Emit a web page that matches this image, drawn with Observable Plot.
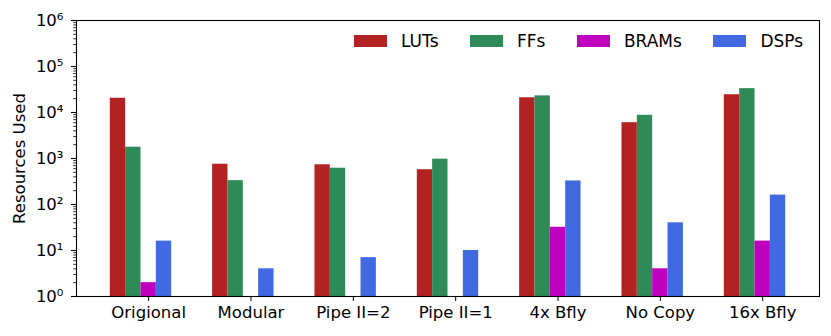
<!DOCTYPE html>
<html><head><meta charset="utf-8">
<script src="https://cdn.jsdelivr.net/npm/d3@7"></script>
<script src="https://cdn.jsdelivr.net/npm/@observablehq/plot@0.6"></script>
<style>
body{margin:0;background:#fff;}
#chart{position:relative;width:831px;height:336px;font-family:"DejaVu Sans",sans-serif;}
#legend{position:absolute;left:354px;top:34px;display:flex;align-items:center;font-size:17px;line-height:14px;color:#000;}
.item{display:flex;align-items:center;margin-right:31.5px}
.sw{width:33px;height:12px;margin-right:14px}
</style></head>
<body><div id="chart"></div>
<script>
const categories = ["Origional","Modular","Pipe II=2","Pipe II=1","4x Bfly","No Copy","16x Bfly"];
const seriesNames = ["LUTs","FFs","BRAMs","DSPs"];
const seriesColors = ["#b22222","#2e8b57","#bf00bf","#4169e1"];
const luts  = [20400, 750, 730, 570, 20900, 6000, 24300];
const ffs   = [1760, 330, 615, 965, 23000, 8700, 33000];
const brams = [2, 0, 0, 0, 32, 4, 16];
const dsps  = [16, 4, 7, 10, 325, 40, 160];
const yTickValues = [1, 10, 100, 1000, 10000, 100000, 1000000];

const seriesValues = [luts, ffs, brams, dsps];
const barW = 0.15;
const rows = [];
seriesValues.forEach((vals, k) => {
  vals.forEach((v, i) => {
    if (v > 0) {
      const c = i + (k - 2) * barW;
      rows.push({series: seriesNames[k], x1: c - barW / 2, x2: c + barW / 2, value: v});
    }
  });
});
const sup = "⁰¹²³⁴⁵⁶⁷⁸⁹";
const minor = [];
for (let e = 0; e < 6; e++) for (let m = 2; m <= 9; m++) minor.push(m * Math.pow(10, e));

const plot = Plot.plot({
  width: 831, height: 336,
  marginLeft: 76, marginRight: 12, marginTop: 20, marginBottom: 40,
  style: {fontFamily: "DejaVu Sans", fontSize: "16.5px", color: "black", background: "white", overflow: "visible"},
  x: {type: "linear", domain: [-0.705, 6.555]},
  y: {type: "log", domain: [1, 1e6]},
  color: {domain: seriesNames, range: seriesColors},
  marks: [
    Plot.rectY(rows, {x1: "x1", x2: "x2", y1: 1, y2: "value", fill: "series"}),
    Plot.axisX({ticks: d3.range(categories.length), tickFormat: i => categories[i], tickSize: 5, tickPadding: 5, label: null}),
    Plot.axisY({ticks: yTickValues, tickFormat: d => "10" + sup[Math.round(Math.log10(d))], tickSize: 5, tickPadding: 8,
      label: "Resources Used", labelArrow: false, labelAnchor: "center", labelOffset: 63, strokeWidth: 1.1}),
    Plot.axisY({ticks: minor, tickFormat: () => "", label: null, tickSize: 2.8, strokeWidth: 0.8}),
    Plot.frame({stroke: "black", strokeWidth: 1.1})
  ]
});
// remove any arrow that older Plot versions add to the axis label
d3.select(plot).selectAll("text").each(function() {
  const t = this.textContent;
  if (t.startsWith("Resources Used")) this.textContent = "Resources Used";
});
const chart = document.getElementById("chart");
chart.appendChild(plot);
const legend = document.createElement("div");
legend.id = "legend";
seriesNames.forEach((s, k) => {
  const it = document.createElement("div"); it.className = "item";
  const sw = document.createElement("div"); sw.className = "sw"; sw.style.background = seriesColors[k];
  const t = document.createElement("span"); t.textContent = s;
  it.appendChild(sw); it.appendChild(t); legend.appendChild(it);
});
chart.appendChild(legend);
</script>
</body></html>
